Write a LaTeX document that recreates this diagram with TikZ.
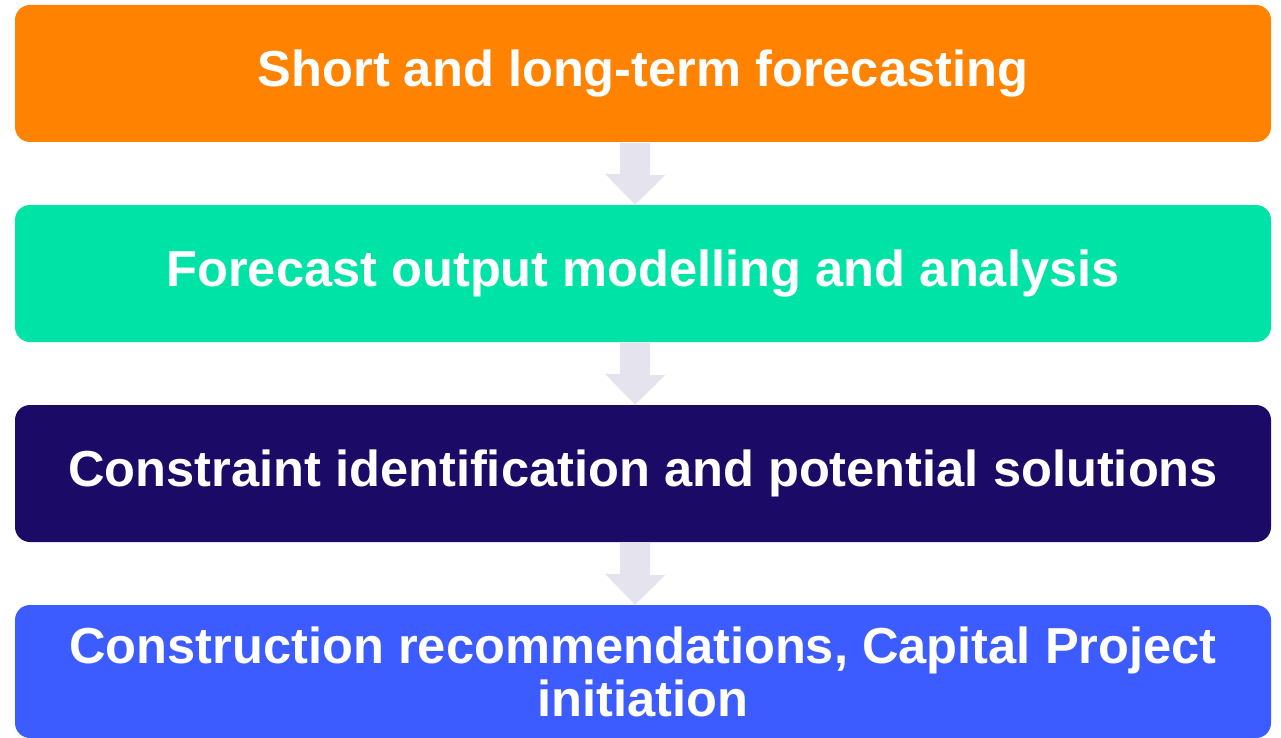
\documentclass[tikz,border=0pt]{standalone}
\usepackage{fontspec}
\setmainfont{Liberation Sans}
\definecolor{cOrange}{HTML}{FF8200}
\definecolor{cTeal}{HTML}{00E3A6}
\definecolor{cNavy}{HTML}{1B0B66}
\definecolor{cBlue}{HTML}{3D5CFF}
\definecolor{cArrow}{HTML}{E5E3EE}
\tikzset{
  stage/.style={fill=#1, draw=none, rounded corners=15pt, text=white,
    font=\fontsize{50.6}{53}\selectfont\bfseries, align=center,
    minimum width=1256pt, inner sep=0pt},
  flowarrow/.style={fill=cArrow, draw=none}
}
\begin{document}
\begin{tikzpicture}[x=1pt,y=-1pt]
\useasboundingbox (0,0) rectangle (1281,738);
\node[stage=cOrange, minimum height=137pt] (s1) at (643,73.5) {Short and long-term forecasting};
\node[stage=cTeal, minimum height=137pt] (s2) at (643,273.5) {Forecast output modelling and analysis};
\node[stage=cNavy, minimum height=137pt] (s3) at (643,473.5) {Constraint identification and potential solutions};
\node[stage=cBlue, minimum height=133pt] (s4) at (643,671.5) {Construction recommendations, Capital Project\\initiation};
\foreach \a/\b in {s1/s2, s2/s3, s3/s4}{
  \path (\a.south) ++(-8,1) coordinate (top-\a);
  \path (\b.north) ++(-8,0) coordinate (tip-\a);
  \fill[flowarrow] (top-\a) ++(-15,0) -- ++(30,0) -- ++(0,32) -- ++(15,0)
    -- (tip-\a) -- ++(-30,-31) -- ++(15,0) -- cycle;
}
\end{tikzpicture}
\end{document}
